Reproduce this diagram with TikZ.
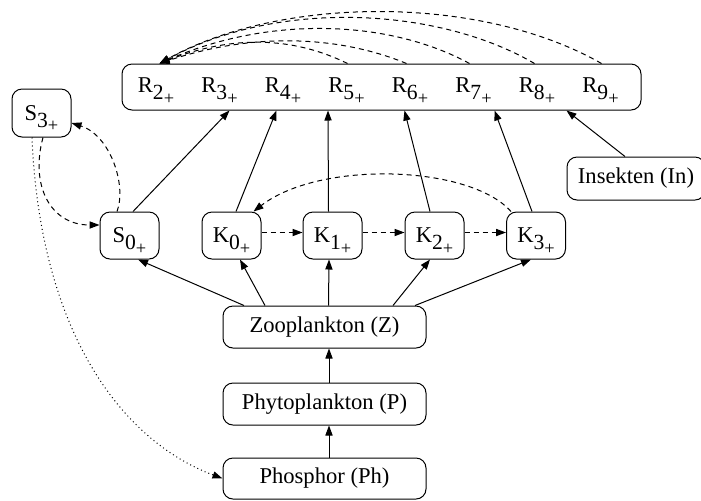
\documentclass[tikz,border=0pt]{standalone}
\usepackage{fontspec}
\setmainfont{Liberation Serif}
\usetikzlibrary{arrows.meta,calc}
\newcommand\lab[2]{#1\smash{\raisebox{-0.3em}{\fontsize{10.8}{11}\selectfont #2\raisebox{-0.22em}{\fontsize{9.2}{9}\selectfont +}}}}
\begin{document}
\begin{tikzpicture}[x=0.5pt,y=-0.5pt,
  box/.style={draw,rounded corners=5pt,line width=0.5pt,inner sep=0pt,font=\fontsize{11.3}{13}\selectfont},
  sbox/.style={box,minimum width=29.5pt,minimum height=23.5pt},
  bbox/.style={box,minimum width=101.5pt,minimum height=21pt},
  arr/.style={-{Triangle[length=5pt,width=3.6pt]},line width=0.5pt},
  dsh/.style={dash pattern=on 2.5pt off 2pt},
  dot/.style={dash pattern=on 0.5pt off 1.5pt},
  txt/.style={inner sep=0pt,font=\fontsize{11.3}{13}\selectfont}]
\useasboundingbox (0,0) rectangle (701,500);

% R box
\node[box,minimum width=259.5pt,minimum height=23pt] (R) at (381.5,87) {};
\node[txt] (r2) at (156,85.5) {\lab{R}{2}};
\node[txt] (r3) at (219.5,85.5) {\lab{R}{3}};
\node[txt] (r4) at (283,85.5) {\lab{R}{4}};
\node[txt] (r5) at (346.5,85.5) {\lab{R}{5}};
\node[txt] (r6) at (410,85.5) {\lab{R}{6}};
\node[txt] (r7) at (473.5,85.5) {\lab{R}{7}};
\node[txt] (r8) at (537,85.5) {\lab{R}{8}};
\node[txt] (r9) at (600.5,85.5) {\lab{R}{9}};

% other nodes
\node[box,minimum width=29.5pt,minimum height=24pt] (s3) at (41.5,113) {\lab{S}{3}};
\node[sbox] (s0) at (129.5,235.5) {\lab{S}{0}};
\node[sbox] (k0) at (231.5,235.5) {\lab{K}{0}};
\node[sbox] (k1) at (332.5,235.5) {\lab{K}{1}};
\node[sbox] (k2) at (434.5,235.5) {\lab{K}{2}};
\node[sbox] (k3) at (536,235.5) {\lab{K}{3}};
\node[box,minimum width=69pt,minimum height=21.5pt] (in) at (636,178.5) {Insekten (In)};
\node[bbox] (z) at (324.5,327) {Zooplankton (Z)};
\node[bbox] (p) at (324.5,404) {Phytoplankton (P)};
\node[bbox,minimum height=20.5pt] (ph) at (324.5,478.5) {Phosphor (Ph)};

% arrows into R
\draw[arr] ($(s0.north)+(3.5,0)$) -- ($(R.south west)+(108,0)$);
\draw[arr] ($(k0.north)+(4.5,0)$) -- ($(R.south west)+(155,0)$);
\draw[arr] ($(k1.north)+(-4,0)$) -- ($(R.south west)+(206.5,0)$);
\draw[arr] ($(k2.north)+(-4.5,0)$) -- ($(R.south west)+(283,0)$);
\draw[arr] ($(k3.north)+(-4,0)$) -- ($(R.south west)+(373,0)$);
\draw[arr] ($(in.north)+(-11,0)$) -- ($(R.south west)+(445,0)$);

% arrows from Z
\draw[arr] ($(z.north)+(-80.5,0)$) -- ($(s0.south)+(8.5,0)$);
\draw[arr] ($(z.north)+(-59.5,0)$) -- ($(k0.south)+(8.5,0)$);
\draw[arr] ($(z.north)+(4,0)$) -- ($(k1.south)+(-3.5,0)$);
\draw[arr] ($(z.north)+(68.5,0)$) -- ($(k2.south)+(-4.5,0)$);
\draw[arr] ($(z.north)+(90.5,0)$) -- ($(k3.south)+(-5,0)$);
\draw[arr] ($(p.north)+(4.5,0)$) -- ($(z.south)+(4.5,0)$);
\draw[arr] ($(ph.north)+(4.5,0)$) -- ($(p.south)+(4.5,0)$);

% K chain
\draw[arr,dsh] ($(k0.east)+(0,-3)$) -- ($(k1.west)+(0,-3)$);
\draw[arr,dsh] ($(k1.east)+(0,-3)$) -- ($(k2.west)+(0,-3)$);
\draw[arr,dsh] ($(k2.east)+(0,-3)$) -- ($(k3.west)+(0,-3)$);
\draw[arr,dsh] ($(k3.north west)+(5,0)$) .. controls (470,165) and (320,160) .. ($(k0.north east)+(-8,0)$);

% S loops
\draw[arr,dsh] ($(s0.north)+(-12.5,0)$) .. controls (127,185) and (110,135) .. ($(s3.east)+(0,10)$);
\draw[arr,dsh] ($(s3.south)+(1.5,0)$) .. controls (30,185) and (50,225) .. ($(s0.west)+(0,-10.5)$);
\draw[arr,dot] ($(s3.south)+(-9.5,0)$) .. controls (40,330) and (120,440) .. (ph.west);

% R arcs
\draw[arr,dsh] ($(R.north west)+(480,0)$) .. controls (480,-6) and (280,-4) .. ($(R.north west)+(38,0)$);
\draw[arr,dsh] ($(R.north west)+(413,0)$) .. controls (440,8) and (280,-2) .. ($(R.north west)+(38,0)$);
\draw[arr,dsh] ($(R.north west)+(348,0)$) .. controls (390,20) and (270,15) .. ($(R.north west)+(38,0)$);
\draw[arr,dsh] ($(R.north west)+(285,0)$) .. controls (345,38) and (260,30) .. ($(R.north west)+(38,0)$);
\draw[arr,dsh] ($(R.north west)+(226,0)$) .. controls (300,40) and (240,32) .. ($(R.north west)+(38,0)$);
\end{tikzpicture}
\end{document}
